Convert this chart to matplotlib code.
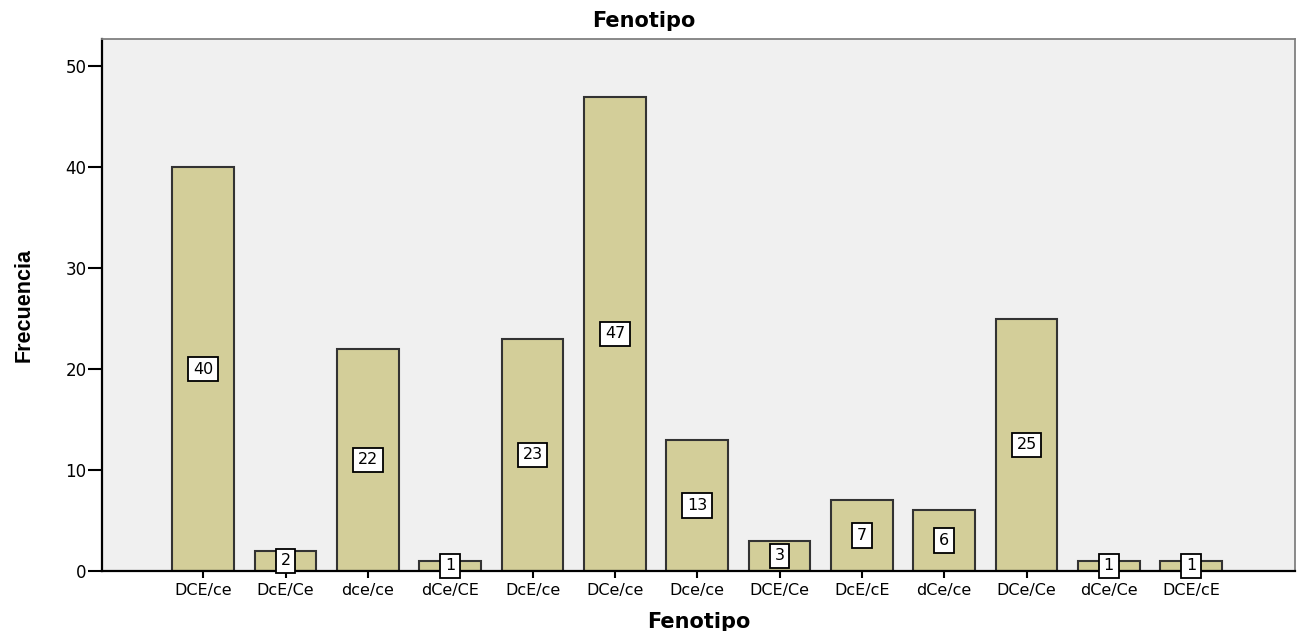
import matplotlib
matplotlib.use("Agg")
import matplotlib.pyplot as plt
from matplotlib import font_manager

categories = ["DCE/ce", "DcE/Ce", "dce/ce", "dCe/CE", "DcE/ce", "DCe/ce", "Dce/ce",
              "DCE/Ce", "DcE/cE", "dCe/ce", "DCe/Ce", "dCe/Ce", "DCE/cE"]
counts = [40, 2, 22, 1, 23, 47, 13, 3, 7, 6, 25, 1, 1]
yticks = [0, 10, 20, 30, 40, 50]

plt.rcParams["font.family"] = ["DejaVu Sans"]
names = {f.name for f in font_manager.fontManager.ttflist}
has_narrow = "Liberation Sans Narrow" in names
narrow = "Liberation Sans Narrow" if has_narrow else "Liberation Sans"

fig = plt.figure(figsize=(12.98, 6.31), dpi=100)
ax = fig.add_axes([0.0786, 0.0951, 0.919, 0.843])
ax.set_facecolor("#f0f0f0")

x = list(range(len(categories)))
ax.bar(x, counts, width=0.75, color="#d3ce99", edgecolor="#333333", linewidth=1.5, zorder=2)

for xi, v in zip(x, counts):
    ax.text(xi, v / 2, str(v), ha="center", va="center", fontsize=11.5, zorder=4,
            bbox=dict(boxstyle="square,pad=0.3", facecolor="white", edgecolor="black", linewidth=1.3))

ax.set_xlim(-1.23, len(categories) - 1 + 1.26)
ax.set_ylim(0, 52.7)
ax.set_yticks(yticks)
ax.set_xticks(x)
ax.set_xticklabels(categories, fontsize=11.5)
ax.tick_params(axis="y", labelsize=12, length=10, width=1.5, color="black", pad=1)
ax.tick_params(axis="x", length=5, width=1.5, color="black", pad=4)

for side in ("top", "right"):
    ax.spines[side].set_color("#808080")
    ax.spines[side].set_linewidth(1.3)
for side in ("left", "bottom"):
    ax.spines[side].set_color("black")
    ax.spines[side].set_linewidth(1.6)

fig.text(0.496, 0.966, "Fenotipo", ha="center", va="center", fontsize=15, fontweight="bold")
ax.set_xlabel("Fenotipo", fontsize=15, fontweight="bold", labelpad=10)
ax.set_ylabel("Frecuencia", fontsize=18 if has_narrow else 15.5, fontweight="bold",
              family=narrow, labelpad=22)

fig.savefig("out.png", dpi=100)
